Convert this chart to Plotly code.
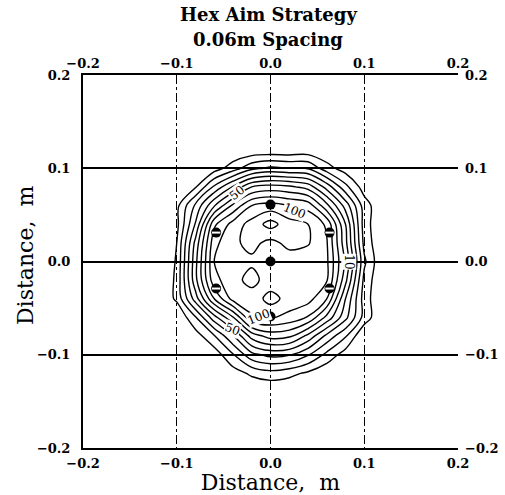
import plotly.graph_objects as go

# grid coordinates (m)
grid_x = [-0.14, -0.12, -0.10, -0.08, -0.06, -0.04, -0.02, 0.0, 0.02, 0.04, 0.06, 0.08, 0.10, 0.12, 0.14]
grid_y = [-0.14, -0.12, -0.10, -0.08, -0.06, -0.04, -0.02, 0.0, 0.02, 0.04, 0.06, 0.08, 0.10, 0.12, 0.14]

# estimated field values (rows follow grid_y, bottom to top)
z_rows = [
    [0, 0, 0, 0, 0, 0, 0, 0, 0, 0, 0, 0, 0, 0, 0],
    [0, 0, 0, 0, 1, 5, 12, 16, 13, 8, 2, 0, 0, 0, 0],
    [0, 0, 0, 0, 4, 19, 37, 43, 41, 31, 17, 5, 0, 0, 0],
    [0, 0, 0, 5, 19, 39, 64, 74, 72, 57, 37, 21, 0, 0, 0],
    [0, 0, 0, 19, 46, 69, 99, 101, 97, 89, 67, 43, 16, 0, 0],
    [0, 0, 12, 45, 80, 104, 104, 114, 106, 104, 90, 50, 15, 0, 0],
    [0, 0, 12, 57, 97, 106, 114, 104, 104, 103, 101, 63, 17, 0, 0],
    [0, 0, 11, 57, 100, 106, 108, 106, 105, 104, 102, 68, 22, 0, 0],
    [0, 0, 10, 53, 97, 108, 113, 107, 113, 111, 101, 63, 17, 0, 0],
    [0, 0, 7, 41, 88, 104, 114, 124, 114, 110, 98, 60, 15, 0, 0],
    [0, 0, 7, 32, 59, 82, 100, 104, 100, 96, 73, 46, 15, 1, 0],
    [0, 0, 0, 9, 32, 51, 70, 74, 72, 66, 46, 23, 5, 0, 0],
    [0, 0, 0, 0, 5, 15, 27, 32, 30, 29, 14, 5, 0, 0, 0],
    [0, 0, 0, 0, 0, 1, 2, 2, 2, 3, 1, 0, 0, 0, 0],
    [0, 0, 0, 0, 0, 0, 0, 0, 0, 0, 0, 0, 0, 0, 0],
]

# aim points (m)
aim_x = [0.0, 0.0, 0.0, -0.058, -0.058, 0.063, 0.063]
aim_y = [0.0, 0.061, -0.059, 0.031, -0.029, 0.031, -0.029]
side_x = [-0.058, -0.058, 0.063, 0.063]
side_y = [0.031, -0.029, 0.031, -0.029]

tick_vals = [-0.2, -0.1, 0.0, 0.1, 0.2]
tick_text = ["\u22120.2", "\u22120.1", "0.0", "0.1", "0.2"]

title_lines = ["Hex Aim Strategy", "0.06m Spacing"]
axis_title = "Distance,  m"

label_text = ["50", "100", "100", "50", "10"]
label_x = [-0.036, 0.026, -0.013, -0.041, 0.084]
label_y = [0.074, 0.054, -0.059, -0.072, 0.0]
label_angle = [-38, 22, -22, 20, 90]

fig = go.Figure()
fig.add_trace(go.Contour(
    x=grid_x, y=grid_y, z=z_rows,
    contours=dict(start=10, end=120, size=10, coloring="lines", showlabels=False),
    colorscale=[[0, "black"], [1, "black"]],
    line=dict(width=1.4, smoothing=1.0),
    showscale=False, hoverinfo="skip",
))
fig.add_trace(go.Scatter(
    x=aim_x, y=aim_y, mode="markers",
    marker=dict(color="black", size=10, symbol="circle"),
    showlegend=False,
))
fig.add_trace(go.Scatter(
    x=side_x, y=side_y, mode="markers",
    marker=dict(color="white", size=6, symbol="line-ew", line=dict(color="white", width=2)),
    showlegend=False,
))
# invisible traces for the mirrored top/right axes
fig.add_trace(go.Scatter(x=[0], y=[0], xaxis="x2", yaxis="y2", mode="markers",
                         marker=dict(opacity=0), showlegend=False, hoverinfo="skip"))

for t, x, y, a in zip(label_text, label_x, label_y, label_angle):
    fig.add_annotation(x=x, y=y, text=t, showarrow=False, textangle=a,
                       font=dict(family="DejaVu Serif", size=12, color="black"),
                       bgcolor="white", borderpad=0)

# two-line title
for txt, yy in zip(title_lines, [1.161, 1.094]):
    fig.add_annotation(xref="paper", yref="paper", x=0.494, y=yy, text=txt, showarrow=False,
                       xanchor="center", yanchor="middle",
                       font=dict(family="DejaVu Serif", size=18, color="black", weight="bold"))

title_font = dict(family="DejaVu Serif", size=22, color="black")
# left axis title
fig.add_annotation(xref="paper", yref="paper", x=-0.155, y=0.517, text=axis_title,
                   showarrow=False, textangle=-90, xanchor="center", yanchor="middle",
                   font=title_font)

tickfont = dict(family="DejaVu Serif", size=13, color="black", weight="bold")
axis_common = dict(range=[-0.2, 0.2], tickvals=tick_vals, ticktext=tick_text,
                   tickfont=tickfont, ticks="", zeroline=False, automargin=False)

fig.update_layout(
    width=505, height=495,
    margin=dict(l=83, r=47, t=75, b=47, autoexpand=False),
    paper_bgcolor="white", plot_bgcolor="white",
    showlegend=False,
    xaxis=dict(**axis_common, showgrid=True, gridcolor="black", gridwidth=1, griddash="dashdot",
               showline=True, linecolor="black", linewidth=2, ticklabelstandoff=2,
               title=dict(text=axis_title, font=title_font, standoff=0)),
    yaxis=dict(**axis_common, showgrid=True, gridcolor="black", gridwidth=1.5,
               showline=True, linecolor="black", linewidth=2, ticklabelstandoff=8),
    xaxis2=dict(**axis_common, overlaying="x", side="top", showgrid=False, ticklabelstandoff=0,
                showline=True, linecolor="black", linewidth=1.5),
    yaxis2=dict(**axis_common, overlaying="y", side="right", showgrid=False, ticklabelstandoff=6,
                showline=False),
)

fig.write_html("out.html", post_script="document.body.style.margin='0';",
               config={"displayModeBar": False})
